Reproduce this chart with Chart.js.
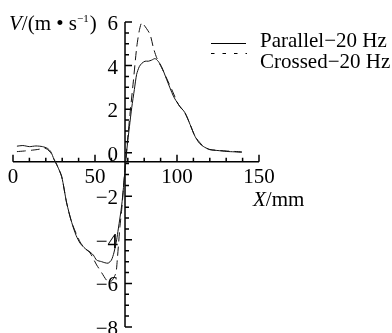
<!DOCTYPE html>
<html>
<head>
<meta charset="utf-8">
<script src="https://cdn.jsdelivr.net/npm/chart.js@4"></script>
<style>
    html, body { margin: 0; padding: 0; background: #fff; }
    canvas { display: block; }
</style>
</head>
<body>
<canvas id="chart" width="392" height="333"></canvas>
<script>
/**
 * Data
 */
const parallelX = [2.4, 6, 10, 14, 18, 21, 23, 25, 27, 29.7, 32.7, 35.8, 38.5, 40.9, 44, 47, 49, 51, 54, 56, 58, 60, 61.5, 63.2, 64.2, 66.3, 68.3, 69.5, 71, 72.4, 74, 75.4, 77, 78.5, 80.5, 82.5, 84.5, 86.6, 88.5, 90.6, 93.7, 97.8, 101, 104.9, 108, 111, 113.5, 116, 120, 125, 130, 135, 139.5];
const parallelV = [0.30, 0.33, 0.28, 0.31, 0.28, 0.2, 0.05, -0.3, -0.6, -1.1, -2.3, -3.2, -3.8, -4.15, -4.4, -4.56, -4.7, -4.93, -5.0, -5.05, -5.07, -4.93, -4.6, -4.0, -3.5, -2.4, -0.8, 0.2, 1.2, 2.07, 2.9, 3.6, 3.95, 4.1, 4.2, 4.2, 4.25, 4.32, 4.2, 3.95, 3.36, 2.6, 2.2, 1.83, 1.29, 0.75, 0.45, 0.29, 0.14, 0.1, 0.06, 0.04, 0.02];

const crossedX = [2.4, 7, 12, 16, 19, 21, 23, 25, 27, 29.7, 32.7, 35.8, 40.9, 44, 47, 51, 54, 57, 59, 61, 62.8, 63.6, 65.2, 66.3, 68, 69.5, 71.3, 73.4, 75.4, 77, 78.5, 80, 83.5, 85.6, 87.6, 91.6, 96.8, 101, 105, 108, 111, 116, 120, 130, 139.5];
const crossedV = [0.05, 0.08, 0.12, 0.16, 0.22, 0.15, 0.0, -0.3, -0.6, -1.1, -2.3, -3.2, -4.1, -4.4, -4.6, -5.15, -5.5, -5.85, -5.95, -5.8, -5.5, -4.9, -3.4, -2.6, -1.0, 0.3, 1.75, 3.29, 4.82, 5.6, 5.98, 5.85, 5.44, 4.82, 4.36, 3.75, 2.9, 2.2, 1.8, 1.3, 0.75, 0.3, 0.15, 0.08, 0.04];

const xTicks = [0, 50, 100, 150];
const yTicks = [-8, -6, -4, -2, 0, 2, 4, 6];
const seriesLabels = ['Parallel\u221220 Hz', 'Crossed\u221220 Hz'];

// where the two axes cross each other
const yAxisAtX = 68.3;
const xAxisAtV = -0.41;

const FONT = '21px "Liberation Serif", "Times New Roman", serif';

function toPoints(xs, ys) {
    return xs.map(function (x, i) { return {x: x, y: ys[i]}; });
}

function label(v) {
    return v < 0 ? '\u2212' + Math.abs(v) : String(v);
}

/**
 * Axes, ticks, titles and legend drawn like the original plot
 */
const axesPlugin = {
    id: 'crossAxes',
    beforeDatasetsDraw: function (chart) {
        const ctx = chart.ctx;
        const sx = chart.scales.x;
        const sy = chart.scales.y;
        const ax = sy.getPixelForValue(xAxisAtV);
        const ay = sx.getPixelForValue(yAxisAtX);

        ctx.save();
        ctx.strokeStyle = '#000';
        ctx.fillStyle = '#000';
        ctx.lineWidth = 1.5;

        // x axis
        ctx.beginPath();
        ctx.moveTo(sx.getPixelForValue(0), ax);
        ctx.lineTo(sx.getPixelForValue(150), ax);
        for (let v = 0; v <= 150; v += 10) {
            const px = sx.getPixelForValue(v);
            const len = v % 50 === 0 ? 7 : 4;
            ctx.moveTo(px, ax);
            ctx.lineTo(px, ax - len);
        }
        // y axis
        ctx.moveTo(ay, sy.getPixelForValue(6));
        ctx.lineTo(ay, sy.getPixelForValue(-8));
        for (let v = -8; v <= 6; v += 0.5) {
            const py = sy.getPixelForValue(v);
            const len = v % 2 === 0 ? 7 : 4;
            ctx.moveTo(ay, py);
            ctx.lineTo(ay + len, py);
        }
        ctx.stroke();

        ctx.font = FONT;
        ctx.textBaseline = 'alphabetic';
        ctx.textAlign = 'center';
        xTicks.forEach(function (v) {
            ctx.fillText(label(v), sx.getPixelForValue(v), ax + 21);
        });
        ctx.textAlign = 'right';
        yTicks.forEach(function (v) {
            ctx.fillText(label(v), ay - 7, sy.getPixelForValue(v) + 8);
        });

        // axis titles
        ctx.textAlign = 'left';
        ctx.font = 'italic ' + FONT;
        ctx.fillText('X', 253, 206);
        let w = ctx.measureText('X').width;
        ctx.font = FONT;
        ctx.fillText('/mm', 253 + w, 206);

        let x = 9;
        ctx.font = 'italic ' + FONT;
        ctx.fillText('V', x, 30);
        x += ctx.measureText('V').width;
        ctx.font = FONT;
        ctx.fillText('/(m \u2022 s', x, 30);
        x += ctx.measureText('/(m \u2022 s').width;
        ctx.font = '11px "Liberation Serif", serif';
        ctx.fillText('\u22121', x, 22);
        x += ctx.measureText('\u22121').width + 1;
        ctx.font = FONT;
        ctx.fillText(')', x, 30);

        // legend
        ctx.lineWidth = 1;
        ctx.beginPath();
        ctx.moveTo(211, 43.5);
        ctx.lineTo(246, 43.5);
        ctx.stroke();
        ctx.setLineDash([3.5, 8]);
        ctx.beginPath();
        ctx.moveTo(211, 53.5);
        ctx.lineTo(247, 53.5);
        ctx.stroke();
        ctx.setLineDash([]);
        ctx.fillText(seriesLabels[0], 260, 46.5);
        ctx.fillText(seriesLabels[1], 260, 68);
        ctx.restore();
    }
};

new Chart(document.getElementById('chart'), {
    type: 'line',
    data: {
        datasets: [
            {
                label: seriesLabels[0],
                data: toPoints(parallelX, parallelV),
                borderColor: '#111',
                borderWidth: 1,
                pointRadius: 0,
                tension: 0.25
            },
            {
                label: seriesLabels[1],
                data: toPoints(crossedX, crossedV),
                borderColor: '#111',
                borderWidth: 1,
                borderDash: [9, 5],
                pointRadius: 0,
                tension: 0.25
            }
        ]
    },
    options: {
        responsive: false,
        animation: false,
        devicePixelRatio: 1,
        layout: {padding: {left: 13, right: 133, top: 22, bottom: 6}},
        scales: {
            x: {type: 'linear', min: 0, max: 150, display: false},
            y: {type: 'linear', min: -8, max: 6, display: false}
        },
        plugins: {
            legend: {display: false},
            tooltip: {enabled: false}
        }
    },
    plugins: [axesPlugin]
});
</script>
</body>
</html>
